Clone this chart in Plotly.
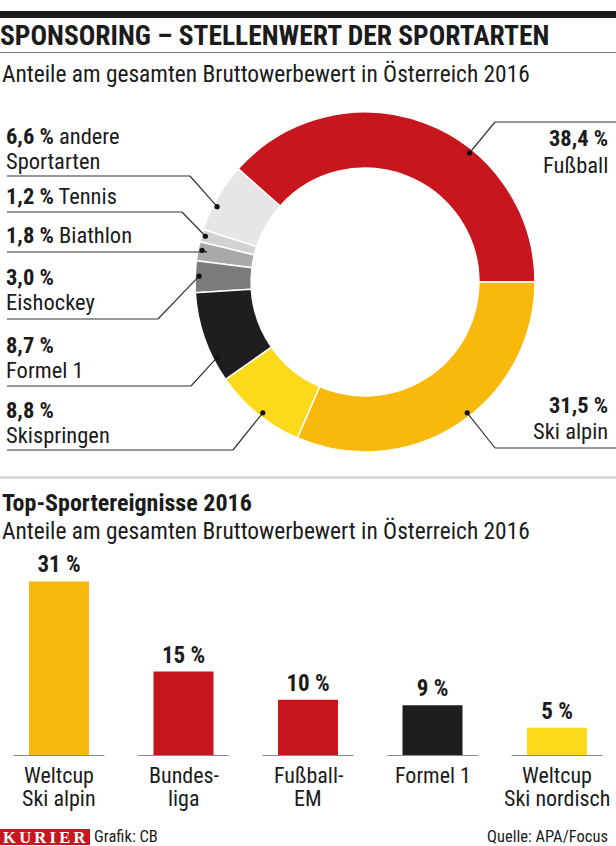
import math
import plotly.graph_objects as go

W, H = 616, 846

# ---- data ----
sports = ["Fußball", "andere Sportarten", "Tennis", "Biathlon", "Eishockey",
          "Formel 1", "Skispringen", "Ski alpin"]
shares = [38.4, 6.6, 1.2, 1.8, 3.0, 8.7, 8.8, 31.5]
slice_colors = ["#c8161e", "#e6e6e6", "#d2d2d2", "#a9a9a9", "#7b7b7b",
                "#1f1d1e", "#fdd91c", "#f8b90c"]

events = ["Weltcup<br>Ski alpin", "Bundes-<br>liga", "Fußball-<br>EM",
          "Formel 1", "Weltcup<br>Ski nordisch"]
event_shares = [31, 15, 10, 9, 5]
event_colors = ["#f8b90c", "#c8161e", "#c8161e", "#1f1d1e", "#fdd91c"]

title = "SPONSORING – STELLENWERT DER SPORTARTEN"
subtitle = "Anteile am gesamten Bruttowerbewert in Österreich 2016"
title2 = "Top-Sportereignisse 2016"
subtitle2 = "Anteile am gesamten Bruttowerbewert in Österreich 2016"
source = "Quelle: APA/Focus"
credit = "Grafik: CB"
brand = "KURIER"

FONT = "Roboto Condensed, Roboto, sans-serif"
DARK = "#1b1b1b"


def px(x):
    return x / W


def py(y):
    return 1 - y / H


# ---- donut geometry (px) ----
CX, CY, R = 365, 282, 170

fig = go.Figure()
fig.add_trace(go.Pie(
    labels=sports, values=shares, sort=False, direction="counterclockwise",
    # plotly puts the first slice clockwise of `rotation` in ccw mode;
    # shift so that Fußball begins at 3 o'clock and runs counter-clockwise
    rotation=90 - shares[0] / sum(shares) * 360,
    hole=0.67, textinfo="none", hoverinfo="label+value",
    marker=dict(colors=slice_colors, line=dict(color="white", width=1.5)),
    domain=dict(x=[px(CX - R), px(CX + R)], y=[py(CY + R), py(CY - R)]),
    showlegend=False,
))

# ---- bar chart ----
fig.add_trace(go.Bar(
    x=list(range(len(events))), y=event_shares,
    marker=dict(color=event_colors, line=dict(width=0)),
    width=0.482,
    text=[f"<b>{v} %</b>" for v in event_shares],
    textposition="outside", cliponaxis=False,
    textfont=dict(family=FONT, size=23, color=DARK),
    xaxis="x2", yaxis="y2", showlegend=False,
))

BASE = 756
PXPCT = 5.63
TOPB = 560
STEP = 124.5
X0 = 59
x_lo = -X0 / STEP
x_hi = (W - X0) / STEP

annotations = []
shapes = []


def txt(x, y, s, size=21, anchor="left", color=DARK, family=FONT, **kw):
    annotations.append(dict(
        x=px(x), y=py(y), xref="paper", yref="paper", text=s, showarrow=False,
        xanchor=anchor, yanchor="middle", font=dict(family=family, size=size, color=color),
        **kw))


def line(x0, y0, x1, y1, color="#333", width=1.2):
    shapes.append(dict(type="line", xref="paper", yref="paper",
                       x0=px(x0), y0=py(y0), x1=px(x1), y1=py(y1),
                       line=dict(color=color, width=width)))


def dot(x, y, r=2.6):
    shapes.append(dict(type="circle", xref="paper", yref="paper",
                       xsizemode="pixel", ysizemode="pixel",
                       xanchor=px(x), yanchor=py(y),
                       x0=-r, x1=r, y0=-r, y1=r,
                       fillcolor="#111", line=dict(width=0)))


# header
shapes.append(dict(type="rect", xref="paper", yref="paper", x0=0, x1=1,
                   y0=py(18), y1=py(11), fillcolor="#1a1a1a", line=dict(width=0)))
txt(-2, 35, f"<b>{title}</b>", size=27.5)
line(0, 52.5, W, 52.5, color="#777", width=1)
txt(0, 74, subtitle, size=23.4)

# donut labels
pct = [f"{v:.1f}".replace(".", ",") + " %" for v in shares]
# (mode, y of each line, anchor, text x, leader hline y, hline x0, x1, elbow x, dot angle)
label_layout = {
    0: ("stack", [138, 165], "right", 610, 122, 495, W, 495, 51),
    1: ("wrap", [136, 161], "left", 4, 176, 7, 190, 190, 153),
    2: ("inline", [196], "left", 4, 212, 7, 182, 182, 164),
    3: ("inline", [235], "left", 4, 252, 7, 207, 207, 169),
    4: ("stack", [277, 302], "left", 4, 319, 7, 158, 158, 178),
    5: ("stack", [345, 370], "left", 4, 386, 7, 191, 191, 207),
    6: ("stack", [410, 435], "left", 4, 450, 7, 233, 233, 232),
    7: ("stack", [405, 431], "right", 610, 448, 495, W, 495, 308),
}
for i, name in enumerate(sports):
    mode, ys, anc, tx, hy, hx0, hx1, ex, ang = label_layout[i]
    if mode == "stack":
        lines = [f"<b>{pct[i]}</b>", name]
    elif mode == "inline":
        lines = [f"<b>{pct[i]}</b> {name}"]
    else:
        first, rest = name.split(" ", 1)
        lines = [f"<b>{pct[i]}</b> {first}", rest]
    for s, yy in zip(lines, ys):
        txt(tx, yy, s, size=22.5, anchor=anc)
    line(hx0, hy, hx1, hy)
    r = 166
    dx = CX + r * math.cos(math.radians(ang))
    dy = CY - r * math.sin(math.radians(ang))
    line(ex, hy, dx, dy)
    dot(dx, dy)

# separator
line(0, 477.5, W, 477.5, color="#d4d4d4", width=2.5)

# second section header
txt(0, 503, f"<b>{title2}</b>", size=24)
txt(0, 531, subtitle2, size=23.4)

# bar baselines and category labels
for i, ev in enumerate(events):
    shapes.append(dict(type="line", xref="x2", yref="y2", x0=i - 0.365, x1=i + 0.365,
                       y0=0, y1=0, line=dict(color="#888", width=2)))
    for k, part in enumerate(ev.split("<br>")):
        annotations.append(dict(
            x=i, y=py(775 + 23 * k), xref="x2", yref="paper", text=part, showarrow=False,
            xanchor="center", yanchor="middle", font=dict(family=FONT, size=22, color=DARK)))

# footer
shapes.append(dict(type="rect", xref="paper", yref="paper", x0=0, x1=px(90),
                   y0=py(845), y1=py(829), fillcolor="#c8161e", line=dict(width=0)))
txt(45, 837, "<b>" + "\u2009".join(brand) + "</b>", size=16.5, anchor="center",
    color="white", family="Liberation Serif, DejaVu Serif, serif")
txt(92, 836, credit, size=16.5)
txt(610, 836, source, size=16.5, anchor="right")

fig.update_layout(
    width=W, height=H, margin=dict(l=0, r=0, t=0, b=0),
    paper_bgcolor="white", plot_bgcolor="white",
    font=dict(family=FONT, color=DARK),
    xaxis2=dict(domain=[0, 1], range=[x_lo, x_hi], anchor="y2", visible=False,
                fixedrange=True),
    yaxis2=dict(domain=[py(BASE), py(TOPB)], range=[0, (BASE - TOPB) / PXPCT],
                anchor="x2", visible=False, fixedrange=True),
    annotations=annotations, shapes=shapes,
)

fig.write_html("out.html", config={"displayModeBar": False},
               post_script="document.body.style.margin='0px';"
                           "document.body.style.overflow='hidden';")
